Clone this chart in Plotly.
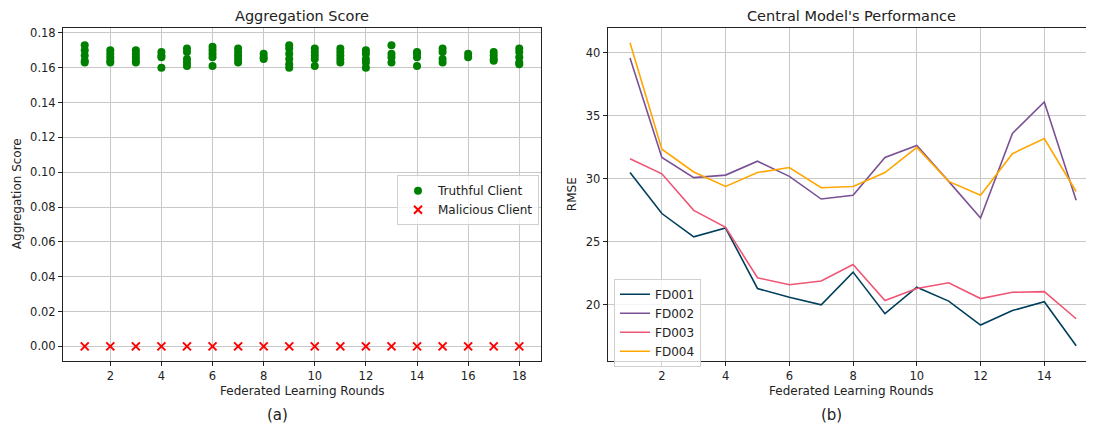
import plotly.graph_objects as go

# ---------------- data ----------------
rounds_a = list(range(1, 19))
truthful_scores = [
    [0.173, 0.170, 0.167, 0.164, 0.163],
    [0.170, 0.168, 0.166, 0.164, 0.163],
    [0.170, 0.168, 0.166, 0.164, 0.163],
    [0.169, 0.167, 0.166, 0.160],
    [0.171, 0.169, 0.165, 0.163, 0.161],
    [0.172, 0.170, 0.168, 0.166, 0.161],
    [0.171, 0.169, 0.167, 0.165, 0.163],
    [0.168, 0.166, 0.165],
    [0.173, 0.171, 0.168, 0.165, 0.162, 0.160],
    [0.171, 0.169, 0.167, 0.165, 0.161],
    [0.171, 0.169, 0.167, 0.165, 0.163],
    [0.170, 0.168, 0.165, 0.163, 0.160],
    [0.173, 0.168, 0.166, 0.163],
    [0.169, 0.168, 0.166, 0.161],
    [0.171, 0.169, 0.165, 0.163],
    [0.168, 0.166],
    [0.169, 0.167, 0.165, 0.164],
    [0.171, 0.169, 0.166, 0.163, 0.162],
]
malicious_scores = [0.0] * 18

rounds_b = list(range(1, 16))
fd001 = [30.5, 27.25, 25.4, 26.1, 21.3, 20.6, 20.0, 22.6, 19.3, 21.4, 20.3, 18.4, 19.55, 20.25, 16.75]
fd002 = [39.6, 31.7, 30.1, 30.3, 31.4, 30.2, 28.4, 28.7, 31.7, 32.65, 29.8, 26.9, 33.6, 36.1, 28.3]
fd003 = [31.6, 30.4, 27.5, 26.15, 22.15, 21.6, 21.9, 23.2, 20.35, 21.3, 21.75, 20.5, 21.0, 21.05, 18.9]
fd004 = [40.8, 32.35, 30.55, 29.4, 30.5, 30.9, 29.3, 29.4, 30.5, 32.5, 29.8, 28.7, 32.0, 33.2, 29.0]
series_names = ["FD001", "FD002", "FD003", "FD004"]
series_colors = ["#003f5c", "#7a5195", "#ef5675", "#ffa600"]

# ---------------- figure ----------------
OFF = 8  # default page body margin
W, H = 1094 - OFF, 431 - OFF
FONT = "DejaVu Sans"


def px(x):
    return (x - OFF) / W


def py(y):
    return 1 - (y - OFF) / H


fig = go.Figure()

tx, ty = [], []
for r, vals in zip(rounds_a, truthful_scores):
    for v in vals:
        tx.append(r)
        ty.append(v)

fig.add_trace(go.Scatter(
    x=tx, y=ty, mode="markers", name="Truthful Client",
    marker=dict(symbol="circle", size=8, color="green"),
    xaxis="x", yaxis="y", legend="legend",
))
fig.add_trace(go.Scatter(
    x=rounds_a, y=malicious_scores, mode="markers", name="Malicious Client",
    marker=dict(symbol="x-thin", size=8, color="red", line=dict(color="red", width=2)),
    xaxis="x", yaxis="y", legend="legend",
))

for name, col, vals in zip(series_names, series_colors, [fd001, fd002, fd003, fd004]):
    fig.add_trace(go.Scatter(
        x=rounds_b, y=vals, mode="lines", name=name,
        line=dict(color=col, width=1.6),
        xaxis="x2", yaxis="y2", legend="legend2",
    ))

axis_common = dict(
    showgrid=True, gridcolor="#c8c8c8", gridwidth=1,
    showline=True, linecolor="#222", linewidth=1,
    ticks="outside", ticklen=4, tickcolor="#222",
    tickfont=dict(family=FONT, size=11.5, color="#222"),
    zeroline=False,
)

fig.update_layout(
    width=W, height=H,
    margin=dict(l=0, r=0, t=0, b=0),
    paper_bgcolor="white", plot_bgcolor="white",
    font=dict(family=FONT, size=11, color="#222"),
    xaxis=dict(domain=[px(63), px(541)], range=[0.15, 18.85], tickmode="linear",
               tick0=2, dtick=2, anchor="y", mirror=True, **axis_common),
    yaxis=dict(domain=[py(361), py(26.5)], range=[-0.0086, 0.1826], tickmode="linear",
               tick0=0, dtick=0.02, tickformat=".2f", anchor="x", mirror=True, **axis_common),
    xaxis2=dict(domain=[px(607.7), 1.0], range=[0.3, 15.56], tickmode="linear",
                tick0=2, dtick=2, anchor="y2", mirror=True, **axis_common),
    yaxis2=dict(domain=[py(361), py(26.5)], range=[15.52, 41.94], tickmode="linear",
                tick0=20, dtick=5, anchor="x2", mirror=False, **axis_common),
    legend=dict(
        x=px(397), y=py(174), xanchor="left", yanchor="top",
        bgcolor="rgba(255,255,255,0.8)", bordercolor="#d0d0d0", borderwidth=1,
        font=dict(family=FONT, size=12, color="#222"), itemwidth=30,
        tracegroupgap=0,
    ),
    legend2=dict(
        x=px(614), y=py(278), xanchor="left", yanchor="top",
        bgcolor="rgba(255,255,255,0.8)", bordercolor="#d0d0d0", borderwidth=1,
        font=dict(family=FONT, size=12, color="#222"), itemwidth=30,
        tracegroupgap=0,
    ),
    showlegend=True,
)

annots = [
    dict(text="Aggregation Score", x=px(302), y=py(14), size=14.5, angle=0),
    dict(text="Central Model's Performance", x=px(851), y=py(14), size=14.5, angle=0),
    dict(text="Aggregation Score", x=px(17), y=py(193), size=12, angle=-90),
    dict(text="RMSE", x=px(572), y=py(193), size=12, angle=-90),
    dict(text="Federated Learning Rounds", x=px(302), y=py(391), size=12, angle=0),
    dict(text="Federated Learning Rounds", x=px(851), y=py(391), size=12, angle=0),
    dict(text="(a)", x=px(277), y=py(415), size=15, angle=0),
    dict(text="(b)", x=px(831), y=py(415), size=15, angle=0),
]
for a in annots:
    fig.add_annotation(
        text=a["text"], x=a["x"], y=a["y"], xref="paper", yref="paper",
        xanchor="center", yanchor="middle", showarrow=False, textangle=a["angle"],
        font=dict(family=FONT, size=a["size"], color="#222"),
    )

fig.write_html("out.html")
